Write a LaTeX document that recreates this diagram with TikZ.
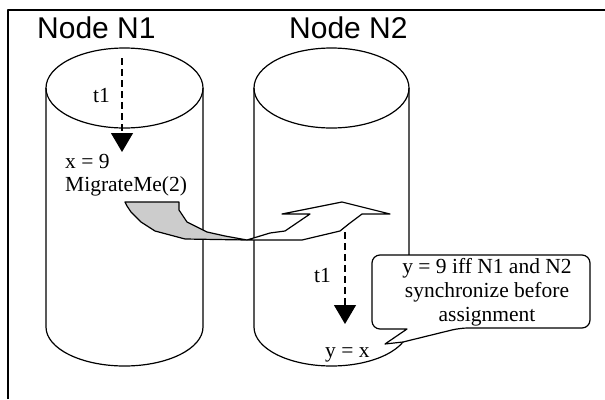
\documentclass[tikz,border=0pt]{standalone}
\usepackage{fontspec}
\setmainfont{Liberation Serif}
\newfontfamily\arialfont{Liberation Sans}
\usetikzlibrary{arrows.meta}

\begin{document}
\begin{tikzpicture}[x=1pt,y=-1pt,line join=round,
  font=\fontsize{21.5}{24}\selectfont,
  >={Triangle[width=22pt,length=19pt]},
  lbl/.style={anchor=base west,inner sep=0pt},
  ttl/.style={lbl,font=\fontsize{30}{34}\selectfont\arialfont},
  cyl/.style={draw,line width=1.2pt},
  flow/.style={draw,->,line width=1.2pt,dash pattern=on 7pt off 4pt},
  band/.style={draw,line width=1.2pt}]
\useasboundingbox (0,0) rectangle (605,399);
\draw[line width=1.6pt] (8,399) -- (8,10) -- (605,10);

% the two nodes as cylinders
\foreach \cx/\rx in {124.5/78.5,331.5/77.5}{
  \draw[cyl] (\cx,88) ellipse [x radius=\rx,y radius=40];
  \draw[cyl] (\cx-\rx,88) -- (\cx-\rx,327)
    arc[start angle=180,end angle=0,x radius=\rx,y radius=39] -- (\cx+\rx,88);
}
\node[ttl] (n1) at (37,38) {Node N1};
\node[ttl] (n2) at (289,38) {Node N2};

% migration arrow: grey back side, white front with head
\draw[band,fill=black!20] (125,202) -- (179,202) -- (179,210) -- (187,222)
  -- (207,232) -- (225,236) -- (247,240) -- (185,239) -- (155,231)
  -- (141,222) -- (131,212) -- (127,206) -- cycle;
\draw[band,fill=white] (247,240) -- (302,240) -- (340,231) -- (350,223)
  -- (362,214) -- (390,214) -- (342,202) -- (282,214) -- (310,214)
  -- (285,231) -- (270,233) -- cycle;

% thread t1 on both sides
\coordinate (a1) at (122,58);
\coordinate (b1) at (122,152);
\coordinate (a2) at (345,232);
\coordinate (b2) at (345,324);
\draw[flow] (a1) -- (b1);
\draw[flow] (a2) -- (b2);

\node[lbl] (t1a) at (93,102) {t1};
\node[lbl] (xv) at (65,168) {x = 9};
\node[lbl] (mig) at (65,191) {MigrateMe(2)};
\node[lbl] (t1b) at (314,282) {t1};
\node[lbl] (yx) at (325,357) {y = x};

% callout
\draw[line width=1.2pt,fill=white,rounded corners=8pt] (407,329) -- (372,329)
  -- (372,255) -- (590,255) -- (590,328) -- (460,328) [sharp corners]
  -- (403,342) -- (385,344) -- cycle;
\node[align=center,inner sep=0pt] (sync) at (487,292)
  {y = 9 iff N1 and N2\\synchronize before\\assignment};
\end{tikzpicture}
\end{document}
